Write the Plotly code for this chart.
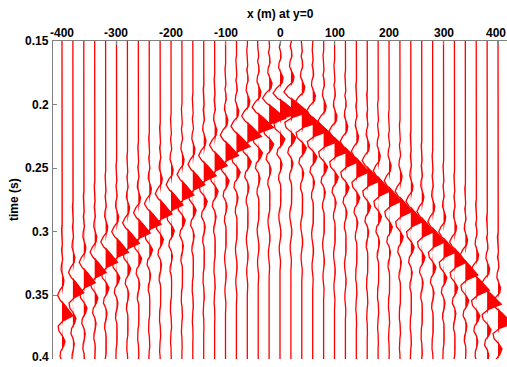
import plotly.graph_objects as go

# trace offsets (m)
offsets = list(range(-400, 401, 20))
# time of the main (filled) peak on each trace (s)
arrival = [0.366, 0.348, 0.340, 0.332, 0.324, 0.316, 0.309, 0.301, 0.294, 0.286,
           0.279, 0.271, 0.263, 0.256, 0.248, 0.240, 0.233, 0.225, 0.218, 0.211,
           0.207, 0.206, 0.214, 0.221, 0.229, 0.237, 0.245, 0.253, 0.260, 0.268,
           0.276, 0.284, 0.292, 0.300, 0.308, 0.316, 0.324, 0.334, 0.346, 0.357, 0.372]
# peak deflection of each trace (m of offset axis)
amplitude = [20, 20, 21, 21, 22, 22, 22, 22, 22, 22,
             22, 22, 22, 23, 23, 24, 25, 26, 28, 30,
             32, 32, 30, 28, 26, 25, 24, 23, 23, 22,
             22, 22, 22, 22, 22, 22, 22, 23, 24, 26, 26]
# wavelet samples (normalised), sample interval 4 ms, peak at index 20
wavelet_dt = 0.004
wavelet_peak = 20
wavelet = [0.02, 0.04, 0.01, -0.04, -0.03,
           0.00, 0.03, -0.04, 0.04, 0.06, -0.05, -0.08, 0.05, 0.18, 0.12,
           -0.20, -0.40, -0.15, 0.30, 0.65, 1.00, 0.10, -0.35, -0.28, 0.05,
           0.28, 0.15, -0.12, -0.18, 0.02, 0.12, 0.06, -0.06, -0.08, 0.03,
           0.05, 0.04, 0.07, 0.04, -0.03, -0.07, -0.05, 0.01, 0.05, 0.05,
           0.00, -0.04, -0.04, 0.00, 0.03, 0.02, 0.00]

x_ticks = [-400, -300, -200, -100, 0, 100, 200, 300, 400]
y_ticks = [0.15, 0.2, 0.25, 0.3, 0.35, 0.4]
y_labels = ["0.15", "0.2", "0.25", "0.3", "0.35", "0.4"]

line_x, line_y, fill_x, fill_y = [], [], [], []
for x0, ta, a in zip(offsets, arrival, amplitude):
    ts = [0.14] + [ta + (k - wavelet_peak) * wavelet_dt for k in range(len(wavelet))] + [0.41]
    vs = [0.0] + [a * w for w in wavelet] + [0.0]
    line_x += [x0 + v for v in vs] + [None]
    line_y += ts + [None]
    fill_x += [x0 + max(v, 0.0) for v in vs] + [None]
    fill_y += ts + [None]

red = "#ff0000"
fig = go.Figure()
fig.add_trace(go.Scatter(x=fill_x, y=fill_y, mode="lines", fill="toself",
                         fillcolor=red, line=dict(width=0, color=red),
                         hoverinfo="skip", showlegend=False))
fig.add_trace(go.Scatter(x=line_x, y=line_y, mode="lines",
                         line=dict(width=1.3, color=red),
                         hoverinfo="skip", showlegend=False))

font = dict(family="Liberation Sans, Arial, sans-serif", size=12, color="black")
axis_col = "#808080"

annotations = [
    dict(text="<b>x (m) at y=0</b>", xref="paper", yref="paper", x=0.5, y=1,
         yshift=27, showarrow=False, font=font, yanchor="middle", xanchor="center"),
    dict(text="<b>time (s)</b>", xref="paper", yref="paper", x=0, y=0.5,
         xshift=-39, showarrow=False, font=font, textangle=-90,
         xanchor="center", yanchor="middle"),
]
for v in x_ticks:
    if v == x_ticks[-1]:
        annotations.append(dict(text="<b>%d</b>" % v, xref="paper", yref="paper",
                                x=1, y=1, yshift=8, showarrow=False, font=font,
                                xanchor="right", yanchor="middle", borderpad=0))
    else:
        annotations.append(dict(text="<b>%d</b>" % v, xref="x", yref="paper", x=v, y=1,
                                yshift=8, showarrow=False, font=font,
                                xanchor="center", yanchor="middle"))
for v, s in zip(y_ticks, y_labels):
    annotations.append(dict(text="<b>%s</b>" % s, xref="paper", yref="y", x=0, y=v,
                            xshift=-2, yshift=(2 if v == y_ticks[-1] else 0),
                            showarrow=False, font=font,
                            xanchor="right", yanchor="middle"))

fig.update_layout(
    width=507, height=367,
    margin=dict(l=53, r=0, t=41, b=8),
    paper_bgcolor="white", plot_bgcolor="white",
    showlegend=False,
    font=font,
    xaxis=dict(range=[-416.5, 416.5], side="top", tickvals=x_ticks,
               showticklabels=False,
               showgrid=False, zeroline=False, showline=True, linecolor=axis_col,
               linewidth=1, ticks="inside", ticklen=4, tickcolor=axis_col),
    yaxis=dict(range=[0.4, 0.15], tickvals=y_ticks, showticklabels=False,
               showgrid=False, zeroline=False, showline=True, linecolor=axis_col,
               linewidth=1, ticks="inside", ticklen=4, tickcolor=axis_col),
    annotations=annotations,
)
fig.write_html("out.html", config={"displayModeBar": False},
               post_script="document.body.style.margin='0';document.body.style.overflow='hidden';")
